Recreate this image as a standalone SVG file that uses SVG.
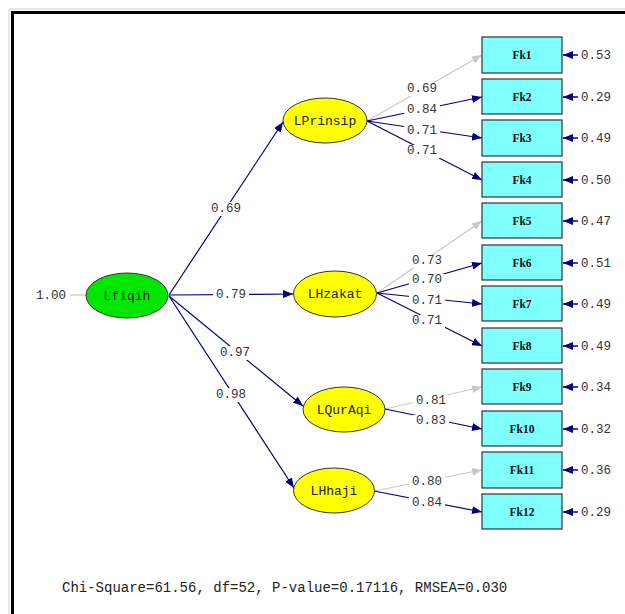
<svg xmlns="http://www.w3.org/2000/svg" width="625" height="614" viewBox="0 0 625 614">
<defs>
<marker id="an" viewBox="0 0 10 8" refX="10" refY="4" markerWidth="10" markerHeight="8" markerUnits="userSpaceOnUse" orient="auto"><path d="M0,0 L10,4 L0,8 Z" fill="#000080"/></marker>
<marker id="ag" viewBox="0 0 10 8" refX="10" refY="4" markerWidth="10" markerHeight="8" markerUnits="userSpaceOnUse" orient="auto"><path d="M0,0 L10,4 L0,8 Z" fill="#c8c8c8"/></marker>
<style>
.n{stroke:#000080;stroke-width:1.2;fill:none;marker-end:url(#an)}
.g{stroke:#c8c8c8;stroke-width:1.2;fill:none;marker-end:url(#ag)}
.e{stroke:#000080;stroke-width:1.5;fill:none;marker-end:url(#an)}
.bg{fill:#fff}
.lbl{font-family:"Liberation Mono",monospace;font-size:12.5px;fill:#333;text-anchor:middle;dominant-baseline:central}
.err{font-family:"Liberation Mono",monospace;font-size:12.5px;fill:#333;dominant-baseline:central}
.box{fill:#80ffff;stroke:#333;stroke-width:1.2}
.bt{font-family:"Liberation Serif",serif;font-weight:bold;font-size:11.5px;fill:#111;text-anchor:middle;dominant-baseline:central}
.lat{fill:#ffff00;stroke:#333;stroke-width:1}
.lt{font-family:"Liberation Mono",monospace;font-size:13px;fill:#222;text-anchor:middle;dominant-baseline:central}
</style>
</defs>
<rect x="0" y="0" width="625" height="614" fill="#fff"/>
<rect x="9" y="9" width="700" height="700" fill="none" stroke="#d0d0d0" stroke-width="1"/>
<rect x="12.5" y="12.5" width="700" height="700" fill="none" stroke="#000" stroke-width="3"/>

<g id="connectors">
<line x1="70" y1="295" x2="86" y2="295" stroke="#c8c8c8" stroke-width="1.2"/>
<path class="n" d="M169,295 L283,122"/>
<path class="n" d="M169,295 L293,294"/>
<path class="n" d="M169,296 L303,406"/>
<path class="n" d="M169,296 L294,488"/>

<path class="g" d="M367,121 L482,55"/>
<path class="n" d="M367,121 L482,97"/>
<path class="n" d="M367,121 L482,138"/>
<path class="n" d="M367,121 L482,180"/>

<path class="g" d="M377,293 L482,221"/>
<path class="n" d="M377,293 L482,263"/>
<path class="n" d="M377,293 L482,304"/>
<path class="n" d="M377,293 L482,346"/>

<path class="g" d="M385,409 L482,387"/>
<path class="n" d="M385,409 L482,429"/>

<path class="g" d="M374,491 L482,470"/>
<path class="n" d="M374,491 L482,512"/>

<path class="e" d="M578,55 L563,55"/>
<path class="e" d="M578,97 L563,97"/>
<path class="e" d="M578,138 L563,138"/>
<path class="e" d="M578,180 L563,180"/>
<path class="e" d="M578,221 L563,221"/>
<path class="e" d="M578,263 L563,263"/>
<path class="e" d="M578,304 L563,304"/>
<path class="e" d="M578,346 L563,346"/>
<path class="e" d="M578,387 L563,387"/>
<path class="e" d="M578,429 L563,429"/>
<path class="e" d="M578,470 L563,470"/>
<path class="e" d="M578,512 L563,512"/>

<rect class="bg" x="208" y="202" width="36" height="14"/>
<rect class="bg" x="213" y="288" width="36" height="14"/>
<rect class="bg" x="217" y="346" width="36" height="14"/>
<rect class="bg" x="213" y="388" width="36" height="14"/>
<rect class="bg" x="404" y="83" width="36" height="13"/>
<rect class="bg" x="404" y="104" width="36" height="13"/>
<rect class="bg" x="404" y="125" width="36" height="13"/>
<rect class="bg" x="404" y="145" width="36" height="13"/>
<rect class="bg" x="409" y="255" width="36" height="13"/>
<rect class="bg" x="409" y="274" width="36" height="13"/>
<rect class="bg" x="409" y="295" width="36" height="13"/>
<rect class="bg" x="409" y="315" width="36" height="13"/>
<rect class="bg" x="413" y="395" width="36" height="13"/>
<rect class="bg" x="413" y="415" width="36" height="13"/>
<rect class="bg" x="409" y="476" width="36" height="13"/>
<rect class="bg" x="409" y="497" width="36" height="13"/>

<text class="lbl" x="51" y="296">1.00</text>
<text class="lbl" x="226" y="209">0.69</text>
<text class="lbl" x="231" y="295">0.79</text>
<text class="lbl" x="235" y="353">0.97</text>
<text class="lbl" x="231" y="395">0.98</text>

<text class="lbl" x="422" y="89">0.69</text>
<text class="lbl" x="422" y="110">0.84</text>
<text class="lbl" x="422" y="131">0.71</text>
<text class="lbl" x="422" y="151">0.71</text>

<text class="lbl" x="427" y="261">0.73</text>
<text class="lbl" x="427" y="280">0.70</text>
<text class="lbl" x="427" y="301">0.71</text>
<text class="lbl" x="427" y="321">0.71</text>

<text class="lbl" x="431" y="401">0.81</text>
<text class="lbl" x="431" y="421">0.83</text>

<text class="lbl" x="427" y="482">0.80</text>
<text class="lbl" x="427" y="503">0.84</text>

<text class="err" x="581" y="56">0.53</text>
<text class="err" x="581" y="98">0.29</text>
<text class="err" x="581" y="139">0.49</text>
<text class="err" x="581" y="181">0.50</text>
<text class="err" x="581" y="222">0.47</text>
<text class="err" x="581" y="264">0.51</text>
<text class="err" x="581" y="305">0.49</text>
<text class="err" x="581" y="347">0.49</text>
<text class="err" x="581" y="388">0.34</text>
<text class="err" x="581" y="430">0.32</text>
<text class="err" x="581" y="471">0.36</text>
<text class="err" x="581" y="513">0.29</text>
</g>

<g id="Lfiqih"><ellipse cx="127" cy="295.5" rx="41" ry="22.5" fill="#00e600" stroke="#333" stroke-width="1"/><text class="lt" x="127" y="296">Lfiqih</text></g>
<g id="LPrinsip"><ellipse class="lat" cx="325" cy="120.5" rx="42" ry="22.5"/><text class="lt" x="325" y="121">LPrinsip</text></g>
<g id="LHzakat"><ellipse class="lat" cx="335" cy="294" rx="41.5" ry="23"/><text class="lt" x="335" y="294">LHzakat</text></g>
<g id="LQurAqi"><ellipse class="lat" cx="344" cy="409.5" rx="41" ry="22.5"/><text class="lt" x="344" y="410">LQurAqi</text></g>
<g id="LHhaji"><ellipse class="lat" cx="334" cy="490.5" rx="40.5" ry="22.5"/><text class="lt" x="334" y="491">LHhaji</text></g>

<g id="Fk1"><rect class="box" x="482" y="37" width="80" height="36"/><text class="bt" x="522" y="55">Fk1</text></g>
<g id="Fk2"><rect class="box" x="482" y="79" width="80" height="35"/><text class="bt" x="522" y="97">Fk2</text></g>
<g id="Fk3"><rect class="box" x="482" y="120" width="80" height="36"/><text class="bt" x="522" y="138">Fk3</text></g>
<g id="Fk4"><rect class="box" x="482" y="162" width="80" height="35"/><text class="bt" x="522" y="180">Fk4</text></g>
<g id="Fk5"><rect class="box" x="482" y="203" width="80" height="35"/><text class="bt" x="522" y="221">Fk5</text></g>
<g id="Fk6"><rect class="box" x="482" y="245" width="80" height="35"/><text class="bt" x="522" y="263">Fk6</text></g>
<g id="Fk7"><rect class="box" x="482" y="286" width="80" height="35"/><text class="bt" x="522" y="304">Fk7</text></g>
<g id="Fk8"><rect class="box" x="482" y="328" width="80" height="35"/><text class="bt" x="522" y="346">Fk8</text></g>
<g id="Fk9"><rect class="box" x="482" y="369" width="80" height="35"/><text class="bt" x="522" y="387">Fk9</text></g>
<g id="Fk10"><rect class="box" x="482" y="411" width="80" height="35"/><text class="bt" x="522" y="429">Fk10</text></g>
<g id="Fk11"><rect class="box" x="482" y="452" width="80" height="36"/><text class="bt" x="522" y="470">Fk11</text></g>
<g id="Fk12"><rect class="box" x="482" y="494" width="80" height="35"/><text class="bt" x="522" y="512">Fk12</text></g>

<text x="62" y="592" font-family="Liberation Mono, monospace" font-size="14" fill="#222">Chi-Square=61.56, df=52, P-value=0.17116, RMSEA=0.030</text>
</svg>
